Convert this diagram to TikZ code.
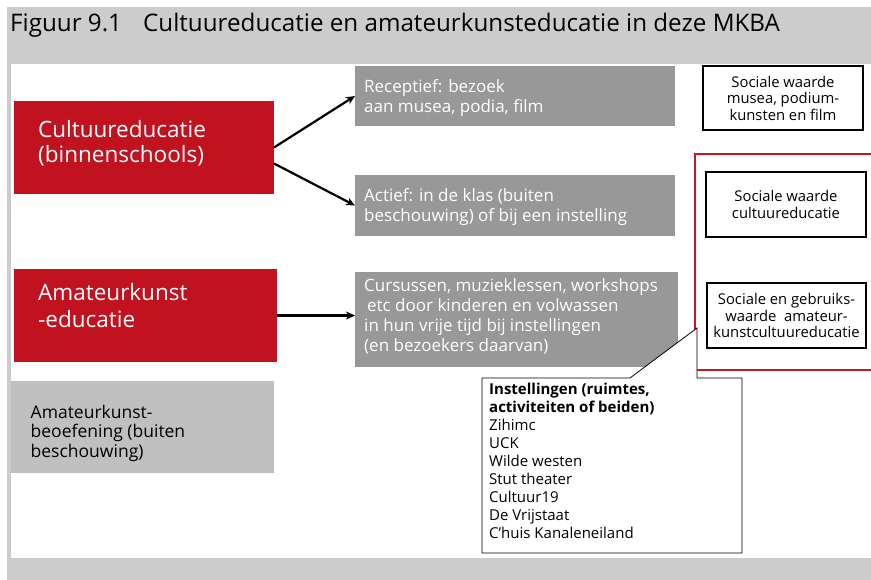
\documentclass[tikz,border=0pt]{standalone}
\usepackage{fontspec}
\setmainfont{Open Sans}
\usetikzlibrary{arrows.meta}
\definecolor{bggray}{RGB}{204,204,204}
\definecolor{boxred}{RGB}{193,18,31}
\definecolor{darkgray}{RGB}{152,152,152}
\definecolor{lightgray}{RGB}{192,192,192}
\definecolor{framered}{RGB}{200,20,35}
\begin{document}
\begin{tikzpicture}[x=1pt,y=-1pt,
  box/.style={anchor=north west, inner sep=0pt, outer sep=0pt},
  redbox/.style={box, fill=boxred},
  graybox/.style={box, fill=darkgray},
  lgraybox/.style={box, fill=lightgray},
  valbox/.style={anchor=north west, draw=black, line width=2pt, fill=white, inner sep=0pt, outer sep=0pt, align=center, font=\fontsize{14.8}{16.5}\selectfont},
  txt/.style={anchor=base west, inner sep=0pt, align=left},
  graytxt/.style={txt, text=white, font=\fontsize{17}{20.2}\selectfont},
  redtxt/.style={txt, text=white, font=\fontsize{22.5}{25.5}\selectfont},
  arr/.style={line width=2.2pt, -{Stealth[length=9pt,width=8pt]}}
]
\useasboundingbox (0,0) rectangle (871,580);
\fill[white] (0,0) rectangle (871,580);
\fill[bggray] (7,7) rectangle (871,580);
\fill[white] (11,64) rectangle (871,558);

% title
\node[txt, font=\fontsize{24.2}{28}\selectfont] (fig) at (10,32) {Figuur 9.1};
\node[txt, font=\fontsize{24.2}{28}\selectfont] (title) at (143,32) {Cultuureducatie en amateurkunsteducatie in deze MKBA};

% left boxes
\node[redbox, minimum width=260pt, minimum height=93pt] (red1) at (14,101) {};
\node[redtxt] (red1t) at (38,163) {Cultuureducatie\\(binnenschools)};
\node[redbox, minimum width=263pt, minimum height=93pt] (red2) at (14,269) {};
\node[redtxt, font=\fontsize{22.5}{26.3}\selectfont] (red2t) at (38,327) {Amateurkunst\\-educatie};
\node[lgraybox, minimum width=263pt, minimum height=92pt] (lg) at (11,381) {};
\node[txt, text=black, font=\fontsize{17.5}{19.5}\selectfont] (lgt) at (30.5,457) {Amateurkunst-\\beoefening (buiten\\beschouwing)};

% middle boxes
\node[graybox, minimum width=320pt, minimum height=60pt] (rec) at (355,66) {};
\node[graytxt] (rect) at (364,113) {Receptief: bezoek\\aan musea, podia, film};
\node[graybox, minimum width=320pt, minimum height=61pt] (act) at (355,175) {};
\node[graytxt] (actt) at (364,222) {Actief: in de klas (buiten\\beschouwing) of bij een instelling};
\node[graybox, minimum width=323pt, minimum height=95pt] (cur) at (355,272) {};
\node[graytxt] (curt) at (364,352) {Cursussen, muzieklessen, workshops\\\hspace*{3pt}etc door kinderen en volwassen\\in hun vrije tijd bij instellingen\\(en bezoekers daarvan)};

% arrows
\draw[arr] (red1.east) -- (rec.west);
\draw[arr] ([yshift=-16pt]red1.east) -- (act.west);
\draw[arr] (red2.east) -- (red2.east -| cur.west);

% red frame
\draw[framered, line width=2pt] (872,154) -| (695,370) -- (872,370);

% right value boxes
\node[valbox, minimum width=160pt, minimum height=64pt] (v1) at (703,66) {Sociale waarde\\musea, podium-\\kunsten en film};
\node[valbox, minimum width=160pt, minimum height=65pt] (v2) at (706,172) {Sociale waarde\\cultuureducatie};
\node[valbox, minimum width=159pt, minimum height=65pt] (v3) at (707,283) {Sociale en gebruiks-\\waarde\ \ amateur-\\kunstcultuureducatie};

% callout
\coordinate (c1) at (630,378);
\coordinate (c2) at (482,378);
\coordinate (c3) at (482,553);
\coordinate (c4) at (742,553);
\coordinate (c5) at (742,378);
\coordinate (c6) at (697,378);
\coordinate (tip) at (697,328);
\draw[black, line width=0.8pt, fill=white] (c1) -- (c2) -- (c3) -- (c4) -- (c5) -- (c6) -- (tip) -- cycle;
\node[txt, font=\fontsize{15}{17.9}\selectfont] (inst) at (489,538) {\textbf{Instellingen (ruimtes,}\\\textbf{activiteiten of beiden)}\\Zihimc\\UCK\\Wilde westen\\Stut theater\\Cultuur19\\De Vrijstaat\\C’huis Kanaleneiland};
\end{tikzpicture}
\end{document}
